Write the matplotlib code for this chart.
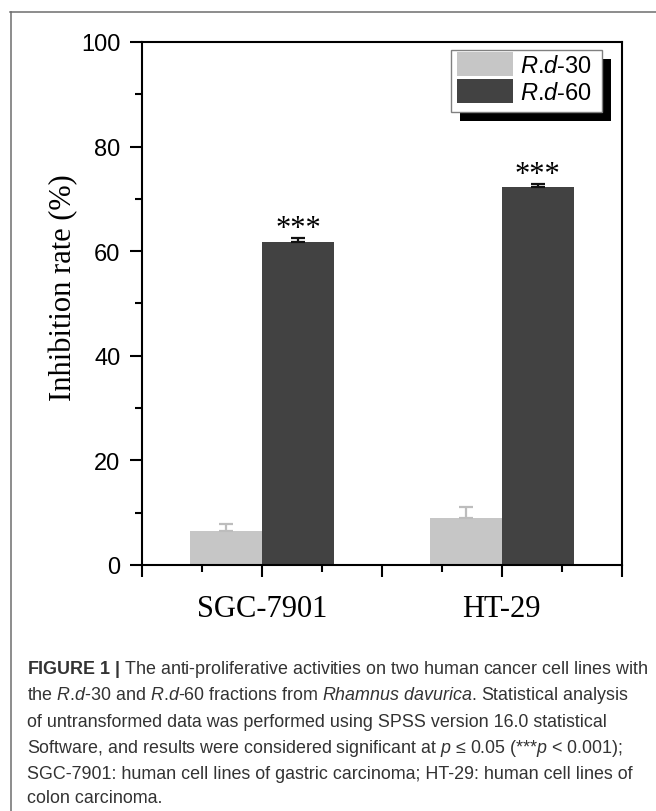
import matplotlib
matplotlib.use("Agg")
import matplotlib.pyplot as plt
import matplotlib.patches as mpatches
from matplotlib.legend_handler import HandlerPatch
from matplotlib.ticker import FixedLocator
from matplotlib.lines import Line2D

# values (inhibition rate, %)
cell_lines = ["SGC-7901", "HT-29"]
x_pos = [1, 2]
rd30 = [6.4, 9.0]
rd30_err = [1.4, 2.0]
rd60 = [61.7, 72.3]
rd60_err = [0.8, 0.5]
series_labels = [r"$\mathit{R}$.$\mathit{d}$-30", r"$\mathit{R}$.$\mathit{d}$-60"]
y_ticks = [0, 20, 40, 60, 80, 100]
signif = ["***", "***"]

caption_lines = [
    r"$\mathbf{FIGURE\ 1\ |}$ The anti-proliferative activities on two human cancer cell lines with",
    r"the $\mathit{R}$.$\mathit{d}$-30 and $\mathit{R}$.$\mathit{d}$-60 fractions from "
    r"$\mathit{Rhamnus\ davurica}$. Statistical analysis",
    "of untransformed data was performed using SPSS version 16.0 statistical",
    r"Software, and results were considered significant at $\mathit{p}$ ≤ 0.05 (***$\mathit{p}$ < 0.001);",
    "SGC-7901: human cell lines of gastric carcinoma; HT-29: human cell lines of",
    "colon carcinoma.",
]

plt.rcParams["font.family"] = ["Liberation Sans", "DejaVu Sans"]
plt.rcParams["mathtext.fontset"] = "custom"
plt.rcParams["mathtext.rm"] = "Liberation Sans"
plt.rcParams["mathtext.it"] = "Liberation Sans:italic"
plt.rcParams["mathtext.bf"] = "Liberation Sans:bold"

light = "#c6c6c6"
dark = "#424242"
width = 0.3

fig = plt.figure(figsize=(6.56, 8.12), dpi=100)
ax = fig.add_axes([0.2165, 0.303, 0.7312, 0.6441])

b30 = ax.bar([x - width / 2 for x in x_pos], rd30, width, color=light, linewidth=0,
             yerr=[[0] * len(rd30), rd30_err], error_kw=dict(ecolor="#bdbdbd", elinewidth=1.6,
                                                             capsize=4.9, capthick=1.6))
b60 = ax.bar([x + width / 2 for x in x_pos], rd60, width, color=dark, linewidth=0,
             yerr=[[0] * len(rd60), rd60_err], error_kw=dict(ecolor="#111111", elinewidth=1.6,
                                                             capsize=4.9, capthick=1.6))

# significance marks above the R.d-60 bars
for x, v, e, s in zip(x_pos, rd60, rd60_err, signif):
    ax.annotate(s, (x + width / 2, v + e), xytext=(0, 1.5), textcoords="offset points",
                ha="center", va="baseline", fontsize=22, family="Liberation Serif")

ax.set_xlim(0.5, 2.5)
ax.set_ylim(0, 100)

ax.xaxis.set_major_locator(FixedLocator([0.5, 1, 1.5, 2, 2.5]))
ax.set_xticklabels(["", cell_lines[0], "", cell_lines[1], ""], family="Liberation Serif",
                   fontsize=22)
ax.xaxis.set_minor_locator(FixedLocator([0.75, 1.25, 1.75, 2.25]))
ax.set_yticks(y_ticks)
ax.yaxis.set_minor_locator(FixedLocator([10, 30, 50, 70, 90]))
ax.tick_params(axis="y", which="major", labelsize=17, pad=7)
ax.tick_params(axis="x", which="major", pad=12)
ax.tick_params(which="major", direction="out", length=8.6, width=1.5, color="black")
ax.tick_params(which="minor", direction="out", length=5, width=1.5, color="black")
ax.tick_params(top=False, right=False, which="both")
for sp in ax.spines.values():
    sp.set_linewidth(1.5)

ax.set_ylabel("Inhibition rate (%)", family="Liberation Serif", fontsize=22)
ax.yaxis.set_label_coords(-0.132, 0.533)

# legend: Origin-style box with a solid black drop shadow
leg = ax.legend([b30.patches[0], b60.patches[0]], series_labels, loc="upper left",
                bbox_to_anchor=(0.6567, 0.981), borderaxespad=0, borderpad=0,
                fontsize=17, handlelength=2.37, handleheight=1.19, handletextpad=0.3,
                labelspacing=0.085, frameon=False,
                handler_map={mpatches.Rectangle: HandlerPatch(xpad=0, ypad=0)})
leg.set_zorder(6)
box_x0, box_x1, box_y0, box_y1 = 0.644, 0.959, 0.8656, 0.9853
ax.add_patch(mpatches.Rectangle((box_x0 + 0.0188, box_y0 - 0.0172), box_x1 - box_x0,
                                box_y1 - box_y0, transform=ax.transAxes, facecolor="black",
                                edgecolor="black", lw=0, zorder=4, clip_on=False))
ax.add_patch(mpatches.Rectangle((box_x0, box_y0), box_x1 - box_x0, box_y1 - box_y0,
                                transform=ax.transAxes, facecolor="white", edgecolor="#808080",
                                lw=1, zorder=4.5, clip_on=False))

# page frame (left and top rules)
fig.add_artist(Line2D([10 / 656, 1], [1 - 12.7 / 812] * 2, color="#6e6e6e", lw=1.1,
                      transform=fig.transFigure))
fig.add_artist(Line2D([11 / 656] * 2, [0, 1 - 12.7 / 812], color="#6e6e6e", lw=1.1,
                      transform=fig.transFigure))

baselines = [674, 700, 727, 753, 779, 803]
for line, b in zip(caption_lines, baselines):
    fig.text(27 / 656, 1 - b / 812, line, fontsize=12.9, color="#333333", va="baseline",
             ha="left")

fig.savefig("out.png", dpi=100)
